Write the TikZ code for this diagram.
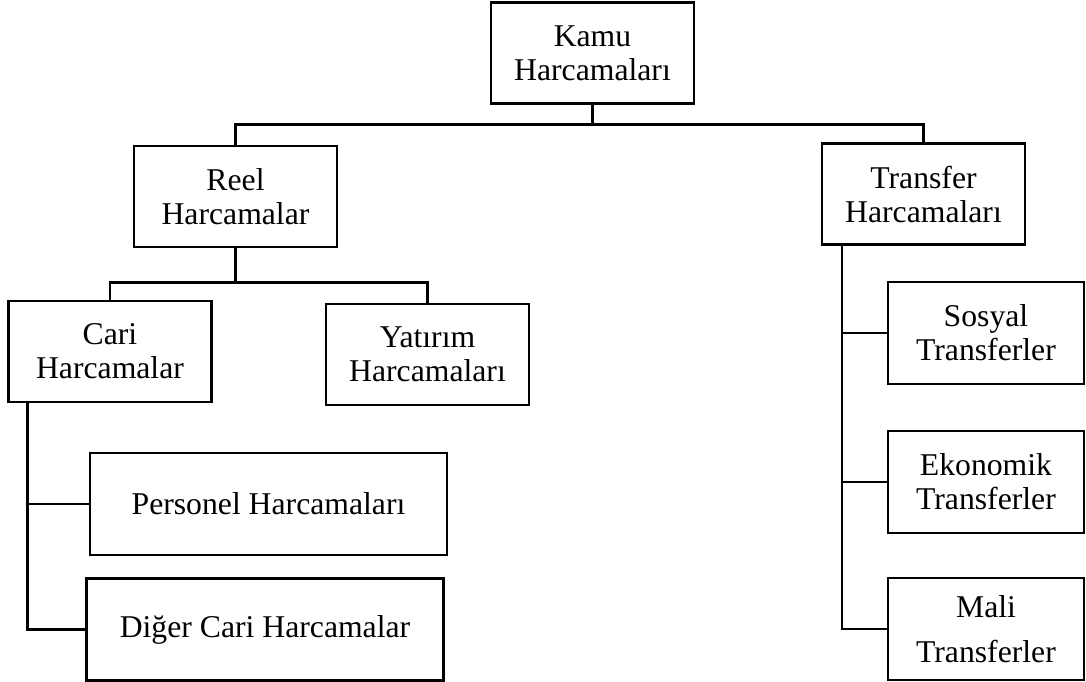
\documentclass[tikz,border=0pt]{standalone}
\usepackage{fontspec}
\setmainfont{Liberation Serif}
\usepackage{tikz}
\tikzset{
  block/.style={
    rectangle, draw=black, line width=2.5pt, minimum width=203pt, minimum height=101pt,
    align=center, inner sep=0pt, font=\fontsize{31.7}{34}\selectfont
  },
  wideblock/.style={block, minimum width=357pt, minimum height=102pt},
  sideblock/.style={block, minimum width=196pt, minimum height=102pt},
  connector/.style={draw=black, line width=2.5pt},
}

\begin{document}
\begin{tikzpicture}[x=1pt, y=-1pt]
  \useasboundingbox (0,0) rectangle (1086,682);

  \node[block] (kamu)     at (592.5,53)  {Kamu\\Harcamaları};
  \node[block] (reel)     at (235.5,196.5) {Reel\\Harcamalar};
  \node[block] (transfer) at (923.5,194) {Transfer\\Harcamaları};

  \node[block] (cari)     at (110,351.5) {Cari\\Harcamalar};
  \node[block] (yatirim)  at (427.5,354.5) {Yatırım\\Harcamaları};

  \node[wideblock] (personel) at (268.5,504) {Personel Harcamaları};
  \node[wideblock] (diger)    at (265,629.5) {Diğer Cari Harcamalar};

  \node[sideblock] (sosyal)   at (986,333) {Sosyal\\Transferler};
  \node[sideblock] (ekonomik) at (986,482) {Ekonomik\\Transferler};
  \node[sideblock] (mali)     at (986,629) {Mali\\[11pt]Transferler};

  % top level
  \draw[connector] (kamu.south) -- ++(0,20) coordinate (kamujoint);
  \draw[connector] (reel.north) |- (kamujoint) -| (transfer.north);

  % reel harcamalar
  \draw[connector] (reel.south) -- ++(0,34) coordinate (reeljoint);
  \draw[connector] (cari.north) |- (reeljoint) -| (yatirim.north);

  % cari harcamalar
  \draw[connector] ([xshift=20pt]cari.south west) |- (personel.west);
  \draw[connector] ([xshift=20pt]cari.south west) |- (diger.west);

  % transfer harcamalari
  \draw[connector] ([xshift=21pt]transfer.south west) |- (sosyal.west);
  \draw[connector] ([xshift=21pt]transfer.south west) |- (ekonomik.west);
  \draw[connector] ([xshift=21pt]transfer.south west) |- (mali.west);

\end{tikzpicture}
\end{document}
